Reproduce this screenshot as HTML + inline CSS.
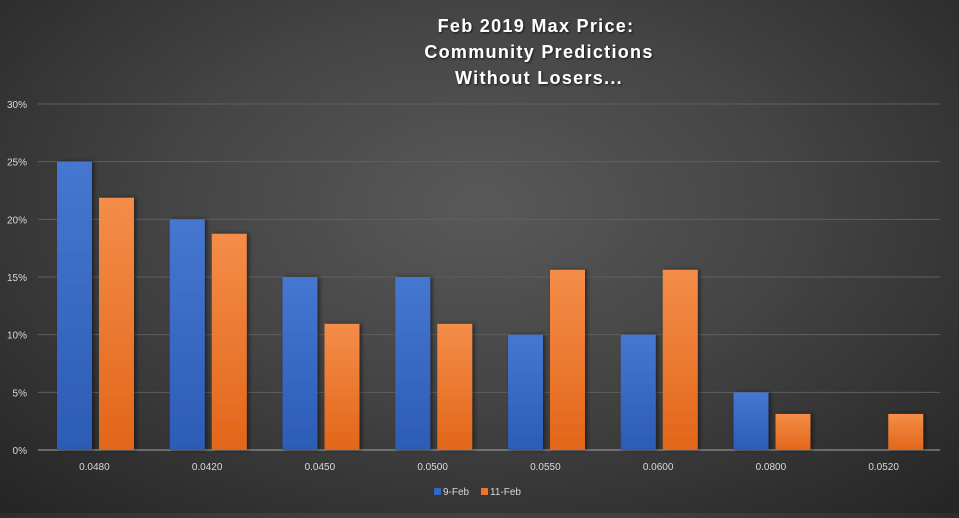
<!DOCTYPE html>
<html><head><meta charset="utf-8"><style>
html,body{margin:0;padding:0;}
body{width:959px;height:513px;overflow:hidden;background:radial-gradient(ellipse 70% 80% at 50% 40%,#595959 0%,#454545 45%,#262626 100%);font-family:"Liberation Sans",sans-serif;}
</style></head><body>
<svg id="chart" width="959" height="513" xmlns="http://www.w3.org/2000/svg">
<defs>
<linearGradient id="gb" x1="0" y1="0" x2="0" y2="1"><stop offset="0" stop-color="#4677d0"/><stop offset="1" stop-color="#2c5cb5"/></linearGradient>
<linearGradient id="go" x1="0" y1="0" x2="0" y2="1"><stop offset="0" stop-color="#f48d48"/><stop offset="1" stop-color="#e2661a"/></linearGradient>
<filter id="sh" x="-30%" y="-10%" width="160%" height="120%"><feDropShadow dx="2" dy="0" stdDeviation="2" flood-color="#000" flood-opacity="0.5"/></filter>
<filter id="ts"><feDropShadow dx="1" dy="1" stdDeviation="1" flood-color="#000" flood-opacity="0.7"/></filter>
</defs>
<g filter="url(#ts)" fill="#fff" font-weight="bold" font-size="18" text-anchor="middle" letter-spacing="1.3">
<text x="536" y="32">Feb 2019 Max Price:</text>
<text x="539" y="58">Community Predictions</text>
<text x="539" y="84">Without Losers...</text>
</g>
<g id="grid"></g><g id="bars"></g><g id="xl"></g>
<g font-size="10" fill="#d9d9d9">
<rect x="434" y="488" width="7" height="7" fill="#3366c4"/>
<text x="443" y="495">9-Feb</text>
<rect x="481" y="488" width="7" height="7" fill="#ed7424"/>
<text x="490" y="495">11-Feb</text>
</g>
</svg>
<script>
const categories=["0.0480","0.0420","0.0450","0.0500","0.0550","0.0600","0.0800","0.0520"];
const feb9=[25,20,15,15,10,10,5,0];
const feb11=[21.875,18.75,10.94,10.94,15.625,15.625,3.125,3.125];
const yTicks=[0,5,10,15,20,25,30];
const NS="http://www.w3.org/2000/svg";
const L=38,R=940,T=104,B=450,ymax=30;
const y=v=>B-(v/ymax)*(B-T);
const bw=(R-L)/categories.length;
const x=i=>L+i*bw;
const grid=document.getElementById('grid'),bars=document.getElementById('bars'),xl=document.getElementById('xl');
function mk(tag,a,p){const e=document.createElementNS(NS,tag);for(const k in a)e.setAttribute(k,a[k]);p.appendChild(e);return e;}
yTicks.forEach(t=>{
 const ln=mk('line',{x1:L,x2:R,y1:y(t),y2:y(t),stroke:t===0?'#a6a6a6':'#5f5f5f','stroke-width':1},grid);
 
 
 const tx=mk('text',{x:27,y:y(t)+4,'text-anchor':'end','font-size':10,fill:'#d9d9d9'},grid);
 tx.textContent=t+'%';
 
 
});
categories.forEach((c,i)=>{
 const b1=mk('rect',{x:x(i)+19,y:y(feb9[i]),width:35,height:B-y(feb9[i]),fill:'url(#gb)',filter:'url(#sh)'},bars);
 
 
 const b2=mk('rect',{x:x(i)+61,y:y(feb11[i]),width:35,height:B-y(feb11[i]),fill:'url(#go)',filter:'url(#sh)'},bars);
 
 
 const t=mk('text',{x:x(i)+bw/2,y:470,'text-anchor':'middle','font-size':10,fill:'#d9d9d9'},xl);
 t.textContent=c;
 
 
});
</script>
</body></html>
